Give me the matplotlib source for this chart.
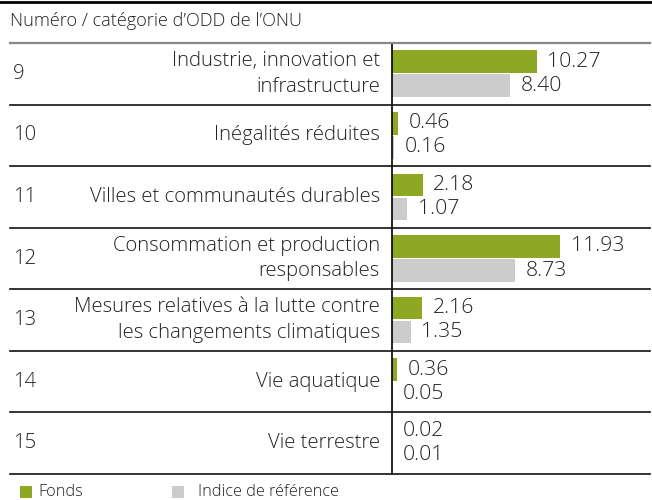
import matplotlib
matplotlib.use("Agg")
import matplotlib.pyplot as plt
from matplotlib.transforms import blended_transform_factory
from matplotlib.lines import Line2D
from matplotlib.patches import Rectangle

numbers = ["9", "10", "11", "12", "13", "14", "15"]
categories = [
    "Industrie, innovation et\ninfrastructure",
    "Inégalités réduites",
    "Villes et communautés durables",
    "Consommation et production\nresponsables",
    "Mesures relatives à la lutte contre\nles changements climatiques",
    "Vie aquatique",
    "Vie terrestre",
]
fonds = [10.27, 0.46, 2.18, 11.93, 2.16, 0.36, 0.02]
indice = [8.40, 0.16, 1.07, 8.73, 1.35, 0.05, 0.01]
title = "Numéro / catégorie d\u2019ODD de l\u2019ONU"
legend_labels = ["Fonds", "Indice de référence"]

GREEN = "#8fa823"
GRAY = "#cccccc"
TXT = "#222222"
plt.rcParams["font.family"] = ["Open Sans", "DejaVu Sans"]
plt.rcParams["font.weight"] = "light"
FS_LAB = 14.6
FS_VAL = 15.3
FS_TTL = 13.1
FS_LEG = 11.7

W, H = 652, 500
fig = plt.figure(figsize=(W / 100, H / 100), dpi=100)

def fx(px):
    return px / W

def fy(py):
    return 1 - py / H

ax_left, ax_right, ax_top, ax_bot = 392, 652, 43, 474
ax = fig.add_axes([fx(ax_left), fy(ax_bot), fx(ax_right - ax_left), (ax_bot - ax_top) / H])
n = len(categories)
ax.set_ylim(n - 0.5, -0.5)
ax.set_xlim(0, (ax_right - ax_left) / 14.1)
ax.axis("off")

ys = list(range(n))
bh = 0.37
off = 0.195
ax.barh([y - off for y in ys], fonds, height=bh, color=GREEN, linewidth=0)
ax.barh([y + off for y in ys], indice, height=bh, color=GRAY, linewidth=0)

for y, v in zip(ys, fonds):
    ax.annotate(f"{v:.2f}", (v, y - off), xytext=(7.5, 0), textcoords="offset points",
                ha="left", va="center", fontsize=FS_VAL, color=TXT)
for y, v in zip(ys, indice):
    ax.annotate(f"{v:.2f}", (v, y + off), xytext=(7.5, 0), textcoords="offset points",
                ha="left", va="center", fontsize=FS_VAL, color=TXT)

# vertical axis line
ax.plot([0, 0], [-0.5, n - 0.5], color="black", lw=1.2, clip_on=False)

tr = blended_transform_factory(fig.transFigure, ax.transData)
# row separators
for i in range(1, n + 1):
    yy = i - 0.5
    ax.plot([fx(10), fx(650)], [yy, yy], color="#111111", lw=1.2, transform=tr, clip_on=False)
# line under title
ax.plot([fx(10), fx(650)], [-0.5, -0.5], color="#888888", lw=1.6, transform=tr, clip_on=False)

for y, num, cat in zip(ys, numbers, categories):
    ax.text(fx(13), y, num, transform=tr, ha="left", va="center", fontsize=FS_LAB, color=TXT)
    ax.text(fx(380), y, cat, transform=tr, ha="right", va="center", fontsize=FS_LAB,
            color=TXT, linespacing=1.38, multialignment="right")

# top border and title
fig.add_artist(Line2D([0, 1], [fy(2), fy(2)], color="black", lw=2, transform=fig.transFigure))
fig.text(fx(10), fy(21), title, ha="left", va="center", fontsize=FS_TTL, color=TXT)

# legend
fig.add_artist(Rectangle((fx(20), fy(498)), fx(12), 12 / H, color=GREEN, transform=fig.transFigure, lw=0))
fig.text(fx(38), fy(492), legend_labels[0], ha="left", va="center", fontsize=FS_LEG, color=TXT)
fig.add_artist(Rectangle((fx(172), fy(498)), fx(12), 12 / H, color=GRAY, transform=fig.transFigure, lw=0))
fig.text(fx(198), fy(492), legend_labels[1], ha="left", va="center", fontsize=FS_LEG, color=TXT)

fig.savefig("out.png", dpi=100)
